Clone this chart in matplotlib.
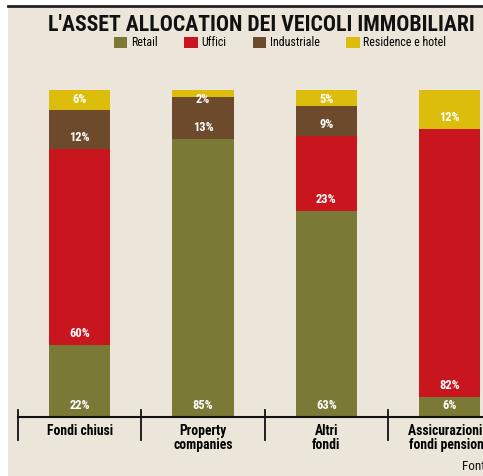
import matplotlib
matplotlib.use('Agg')
import matplotlib.pyplot as plt
import matplotlib.transforms as mtransforms
from matplotlib.patches import Rectangle
import numpy as np

categories = ['Fondi chiusi', 'Property\ncompanies', 'Altri\nfondi', 'Assicurazioni e\nfondi pensione']
series = ['Retail', 'Uffici', 'Industriale', 'Residence e hotel']
retail = [22, 85, 63, 6]
uffici = [60, 0, 23, 82]
industriale = [12, 13, 9, 0]
residence = [6, 2, 5, 12]
colors = ['#7b7936', '#c9151d', '#6d4a2b', '#dcbd0c']
bg = '#ebe6d9'
FONT = ['Roboto Condensed', 'DejaVu Sans']

plt.rcParams['font.family'] = FONT

fig = plt.figure(figsize=(4.83, 4.76), dpi=100, facecolor='white')
W, H = 483, 476

# beige panel and top rule
fig.patches.append(Rectangle((8 / W, 0), 1, 1 - 7 / H, transform=fig.transFigure,
                             facecolor=bg, edgecolor='none', zorder=-5))
fig.add_artist(plt.Line2D([8 / W, 1], [1 - 6 / H, 1 - 6 / H], transform=fig.transFigure,
                          color='#222222', lw=2))

ax = fig.add_axes([18 / W, 1 - 417 / H, 1 - 18 / W, 327 / H])
ax.set_facecolor('none')
ax.set_zorder(2)

x = np.arange(len(categories))
width = 0.495
data = [retail, uffici, industriale, residence]
bottom = np.zeros(len(categories))
bars = []
for vals, c, name in zip(data, colors, series):
    vals = np.array(vals, dtype=float)
    b = ax.bar(x, vals, width, bottom=bottom, color=c, label=name, zorder=2)
    bars.append(b)
    for xi, v, b0 in zip(x, vals, bottom):
        if v > 0:
            ypos = min(b0 + 3.5, 97)
            ax.text(xi, ypos, '%d%%' % v, ha='center', va='center', color='white',
                    fontsize=9, fontweight='bold', zorder=3)
    bottom = bottom + vals

ax.set_xlim(-0.5, 3.27)
ax.set_ylim(0, 100)
for s in ['top', 'right', 'left']:
    ax.spines[s].set_visible(False)
ax.spines['bottom'].set_linewidth(1.5)
ax.spines['bottom'].set_color('#111111')
ax.set_yticks([])
ax.set_xticks(x)
ax.set_xticklabels(categories, fontsize=9.8, fontweight='bold', linespacing=1.0)
ax.tick_params(axis='x', length=0, pad=5)

trans = mtransforms.blended_transform_factory(ax.transData, ax.transAxes)
for xi in x:
    ax.plot([xi - 0.5, xi - 0.5], [-0.07, 0.021], transform=trans, color='#111111',
            lw=1.3, clip_on=False)

fig.text(48 / W, 1 - 25 / H, "L'ASSET ALLOCATION DEI VEICOLI IMMOBILIARI", fontsize=15.7,
         fontweight='bold', ha='left', va='center', color='#111111')

fig.legend(handles=[b[0] for b in bars], labels=series, loc='center',
           bbox_to_anchor=(280 / W, 1 - 43 / H), ncol=4, frameon=False,
           fontsize=8.6, handlelength=1.15, handleheight=1.0, handletextpad=0.3,
           columnspacing=2.2, borderpad=0)

fig.text(462 / W, 1 - 466 / H, 'Fonte: Scenari Immobiliari', fontsize=9.5,
         ha='left', va='center', color='#111111')

fig.savefig('out.png', dpi=100, facecolor=fig.get_facecolor())
